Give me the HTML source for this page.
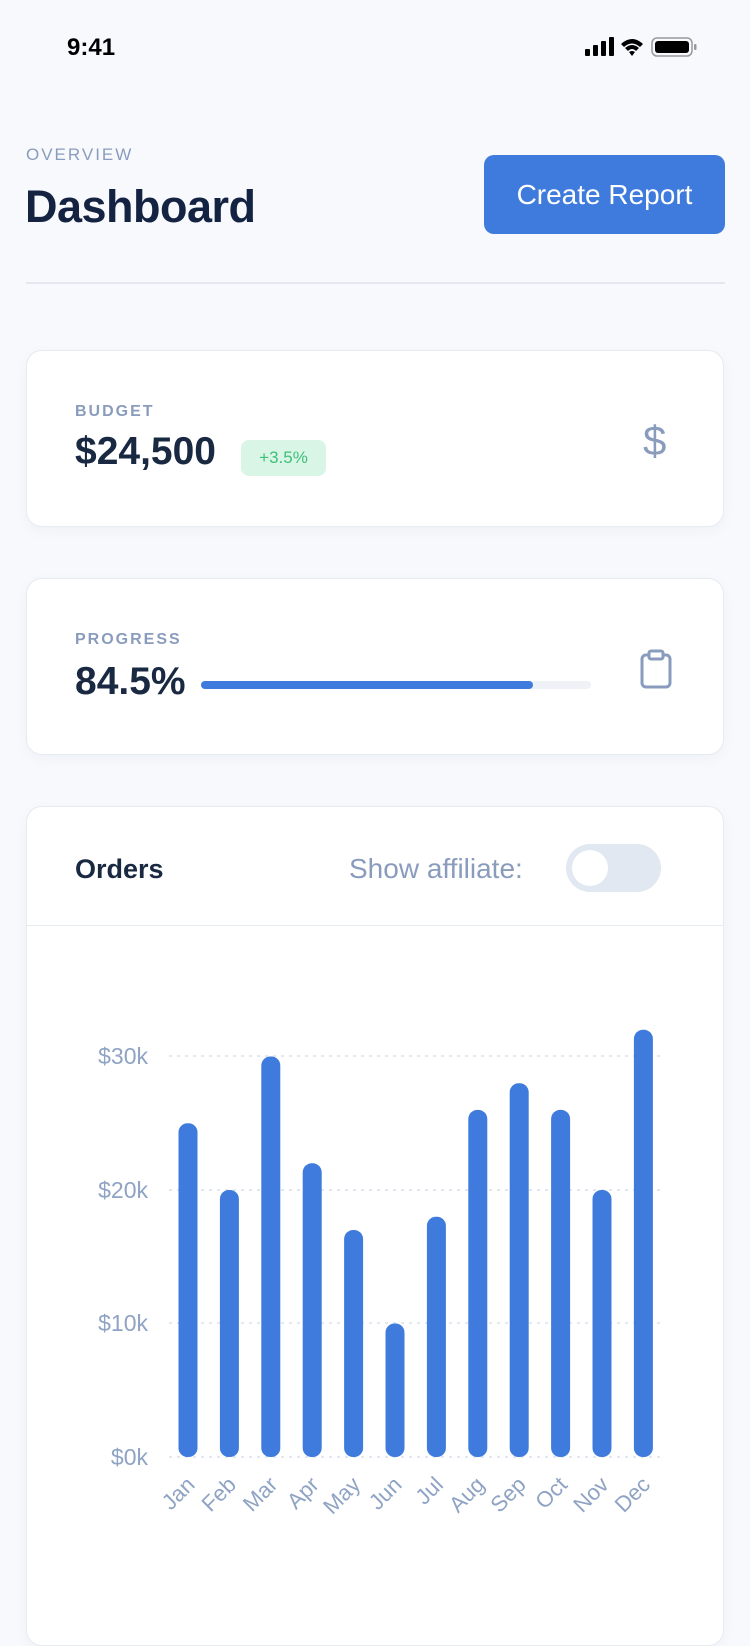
<!DOCTYPE html>
<html><head><meta charset="utf-8"><style>
*{margin:0;padding:0;box-sizing:border-box}
body{width:750px;height:1624px;background:#f7f9fc;font-family:"Liberation Sans",sans-serif;position:relative;overflow:hidden;color:#1a2942}
.abs{position:absolute}
.card{position:absolute;left:26px;width:698px;background:#fff;border:1px solid #e6ebf2;border-radius:16px;box-shadow:0 4px 14px rgba(30,50,90,0.04)}
.lbl{font-size:16px;letter-spacing:2px;color:#8a9cbd;font-weight:bold}
</style></head><body>
<div class="abs" style="left:67px;top:34px;font-size:24px;font-weight:bold;color:#000">9:41</div>
<svg class="abs" style="left:585px;top:36px" width="130" height="24">
<rect x="0" y="13" width="5" height="7" rx="1" fill="#000"/><rect x="8" y="9" width="5" height="11" rx="1" fill="#000"/><rect x="16" y="5" width="5" height="15" rx="1" fill="#000"/><rect x="24" y="1" width="5" height="19" rx="1" fill="#000"/>
<path d="M36 8 Q47 -2 58 8 L55 11 Q47 4 39 11Z M40 12 Q47 6 54 12 L51 15 Q47 11 43 15Z M44 16 Q47 14 50 16 L47 20Z" fill="#000"/>
<rect x="67" y="2" width="40" height="18" rx="5" fill="none" stroke="#999" stroke-width="1.5"/><rect x="70" y="5" width="34" height="12" rx="3" fill="#000"/><rect x="109" y="8" width="2.5" height="6" rx="1" fill="#999"/>
</svg>
<div class="abs lbl" style="left:26px;top:145px;font-weight:normal;font-size:17px">OVERVIEW</div>
<div class="abs" style="left:25px;top:181px;font-size:45px;font-weight:bold;color:#142341;letter-spacing:-0.5px">Dashboard</div>
<div class="abs" style="left:484px;top:155px;width:241px;height:79px;background:#3f7bdc;border-radius:10px;color:#fff;font-size:28px;text-align:center;line-height:79px">Create Report</div>
<div class="abs" style="left:26px;top:282px;width:699px;height:2px;background:#e4e9f1"></div>

<div class="card" style="top:350px;height:177px">
<div class="abs lbl" style="left:48px;top:52px">BUDGET</div>
<div class="abs" style="left:48px;top:79px;font-size:39px;font-weight:bold">$24,500</div>
<div class="abs" style="left:214px;top:89px;width:85px;height:36px;background:#d9f5e5;border-radius:8px;color:#3fc07a;font-size:17px;text-align:center;line-height:36px">+3.5%</div>
<div class="abs" style="left:616px;top:66px;font-size:42px;color:#8a9cbd">$</div>
</div>

<div class="card" style="top:578px;height:177px">
<div class="abs lbl" style="left:48px;top:52px">PROGRESS</div>
<div class="abs" style="left:48px;top:81px;font-size:39px;font-weight:bold">84.5%</div>
<div class="abs" style="left:174px;top:102px;width:390px;height:8px;background:#eef1f6;border-radius:4px"><div style="width:332px;height:8px;background:#3f7bdc;border-radius:4px"></div></div>
<svg class="abs" style="left:612px;top:70px" width="34" height="40"><rect x="3" y="6" width="28" height="32" rx="4" fill="none" stroke="#8a9cbd" stroke-width="3"/><rect x="10" y="2" width="14" height="8" rx="2" fill="#fff" stroke="#8a9cbd" stroke-width="3"/></svg>
</div>

<div class="card" style="top:806px;height:840px">
<div class="abs" style="left:48px;top:47px;font-size:27px;font-weight:bold">Orders</div>
<div class="abs" style="left:322px;top:46px;font-size:28px;color:#8a9cbd">Show affiliate:</div>
<div class="abs" style="left:539px;top:37px;width:95px;height:48px;background:#e2e8f1;border-radius:24px"><div style="position:absolute;left:6px;top:6px;width:36px;height:36px;border-radius:18px;background:#fff"></div></div>
<div class="abs" style="left:0;top:118px;width:696px;height:1px;background:#e6ebf2"></div>
</div>

<svg class="abs" style="left:0;top:0" width="750" height="1624" font-family="Liberation Sans, sans-serif">
<g stroke="#e3e8f0" stroke-width="2" stroke-dasharray="3 5">
<line x1="169" x2="663" y1="1056" y2="1056"/><line x1="169" x2="663" y1="1190" y2="1190"/><line x1="169" x2="663" y1="1323" y2="1323"/><line x1="169" x2="663" y1="1457" y2="1457"/>
</g>
<g fill="#8fa3c4" font-size="23" text-anchor="end">
<text x="148" y="1064">$30k</text><text x="148" y="1198">$20k</text><text x="148" y="1331">$10k</text><text x="148" y="1465">$0k</text>
</g>
<g fill="#3f7bdc" id="bars"></g>
<g fill="#8fa3c4" font-size="22" text-anchor="end" id="xl"></g>
<script>
var v=[25,20,30,22,17,10,18,26,28,26,20,32],m=["Jan","Feb","Mar","Apr","May","Jun","Jul","Aug","Sep","Oct","Nov","Dec"],b=document.getElementById("bars"),xl=document.getElementById("xl"),ns="http://www.w3.org/2000/svg";
for(var i=0;i<12;i++){var cx=188+i*41.4,h=v[i]*13.35,r=document.createElementNS(ns,"rect");
r.setAttribute("x",cx-9.5);r.setAttribute("y",1457-h);r.setAttribute("width",19);r.setAttribute("height",h);r.setAttribute("rx",9);b.appendChild(r);
var t=document.createElementNS(ns,"text");t.setAttribute("transform","translate("+(cx+8)+",1486) rotate(-45)");t.textContent=m[i];xl.appendChild(t);}
</script>
</svg>
</body></html>
